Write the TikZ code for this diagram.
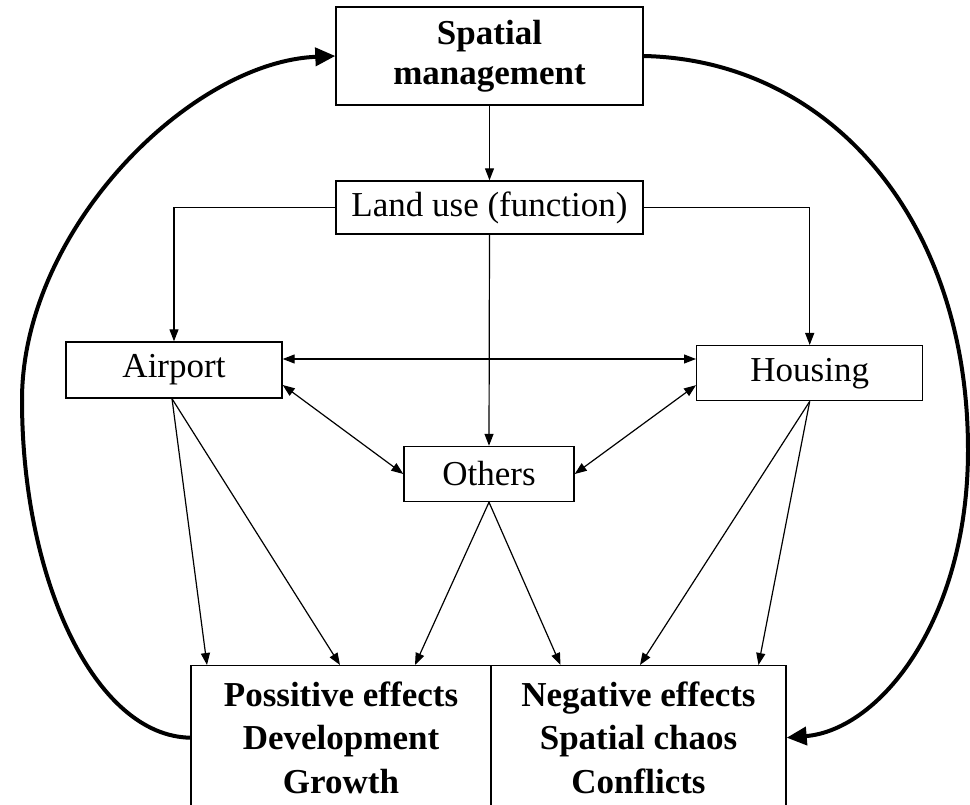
\documentclass[tikz,border=0pt]{standalone}
\usepackage{fontspec}
\setmainfont{Liberation Serif}
\usetikzlibrary{arrows.meta,calc}
\begin{document}
\begin{tikzpicture}[x=1pt,y=-1pt,
  box/.style={draw,line width=1.4pt,rectangle,inner sep=0pt,align=center,font=\fontsize{35}{42}\selectfont},
  boldbox/.style={box,font=\fontsize{35}{40}\selectfont\bfseries},
  effbox/.style={box,font=\fontsize{35}{43.5}\selectfont\bfseries,minimum width=300pt,minimum height=144pt,anchor=north},
  thin/.style={line width=1.2pt,-{Triangle[length=12pt,width=9pt]}},
  thinboth/.style={line width=1.2pt,{Triangle[length=12pt,width=9pt]}-{Triangle[length=12pt,width=9pt]}},
  thick/.style={line width=4pt,-{Triangle[length=20pt,width=18pt]}},
  thickline/.style={line width=4pt}]
\useasboundingbox (0,0) rectangle (970,805);
\node[boldbox,minimum width=307pt,minimum height=98pt] (sm) at (489.5,56) {Spatial\\management};
\node[box,minimum width=216pt,minimum height=56pt] (ap) at (174,370) {Airport};
\node[box,minimum width=307pt,minimum height=53pt] (lu) at (489.5,207.5) {Land use (function)};
\node[box,minimum width=226pt,minimum height=55pt] (hs) at (809.7,373.2) {Housing};
\node[box,minimum width=170pt,minimum height=55pt] (ot) at (489,474) {Others};
\node[effbox] (pos) at (341,665) {Possitive effects\\Development\\Growth};
\node[effbox,minimum width=295pt] (neg) at (638.5,665) {Negative effects\\Spatial chaos\\Conflicts};

\draw[thin] (sm.south) -- (lu.north);
\draw[thin] (lu.west) -| (ap.north);
\draw[thin] (lu.east) -| (hs.north);
\draw[thin] (lu.south) -- (ot.north);
\draw[thinboth] ([yshift=11pt]ap.east) -- ([yshift=11pt]ap.east -| hs.west);
\draw[thinboth] ([yshift=-15pt]ap.east) -- (ot.west);
\draw[thinboth] ([yshift=-12pt]hs.west) -- (ot.east);
\draw[thin] ([xshift=-2pt]ap.south) -- ([xshift=-134pt]pos.north);
\draw[thin] ([xshift=-2pt]ap.south) -- ([xshift=-1pt]pos.north);
\draw[thin] (ot.south) -- ([xshift=74pt]pos.north);
\draw[thin] (ot.south) -- ([xshift=-78pt]neg.north);
\draw[thin] (hs.south) -- ([xshift=1.5pt]neg.north);
\draw[thin] (hs.south) -- ([xshift=120pt]neg.north);

\coordinate (lft) at (22,400);
\coordinate (rgt) at (968,450);
\draw[thickline] (pos.west) .. controls (95,736) and (22,580) .. (lft);
\draw[thick] (lft) .. controls (22,230) and (190,62) .. (sm.west);
\draw[thickline] (sm.east) .. controls (830,60) and (968,220) .. (rgt);
\draw[thick] (rgt) .. controls (968,620) and (880,730) .. (neg.east);
\end{tikzpicture}
\end{document}
